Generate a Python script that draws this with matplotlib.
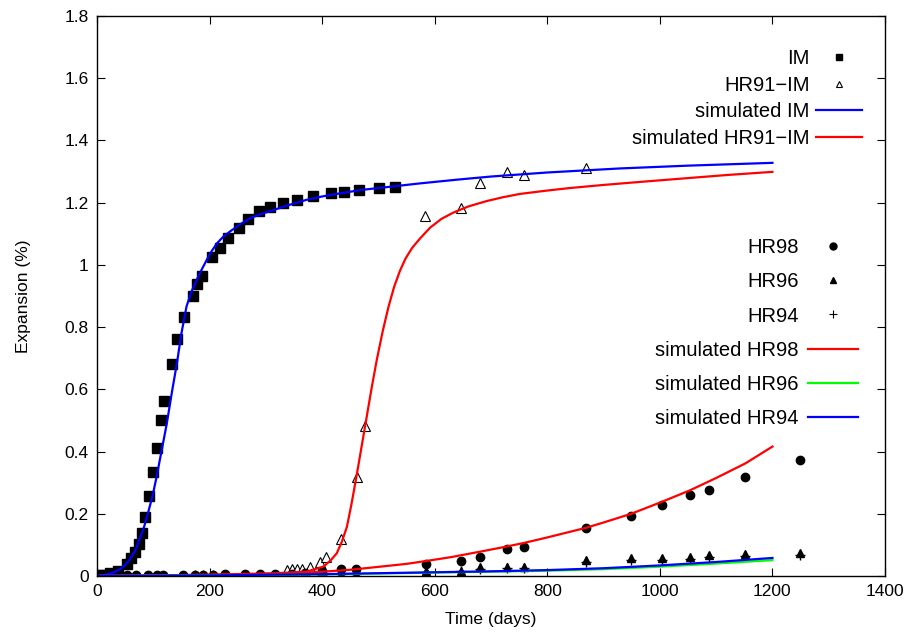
import matplotlib
matplotlib.use("Agg")
import matplotlib.pyplot as plt
from matplotlib.lines import Line2D
from matplotlib.legend_handler import HandlerLine2D

plt.rcParams['font.family'] = ['Liberation Sans', 'DejaVu Sans']

# ---- measured data ----
im_days = [4, 11, 23, 38, 53, 60, 68, 74, 80, 86, 93, 100, 106, 113, 119, 133, 143, 155,
           170, 178, 186, 205, 218, 232, 253, 268, 288, 308, 330, 355, 383, 415, 438, 465, 501, 529]
im_vals = [0.002, 0.004, 0.009, 0.017, 0.039, 0.059, 0.078, 0.102, 0.139, 0.19, 0.257, 0.335,
           0.412, 0.50, 0.563, 0.68, 0.761, 0.833, 0.90, 0.94, 0.965, 1.024, 1.055, 1.085,
           1.117, 1.149, 1.172, 1.185, 1.198, 1.21, 1.22, 1.23, 1.234, 1.24, 1.246, 1.251]

hr91_days = [337, 346, 355, 364, 378, 396, 407, 433, 462, 477, 583, 646, 680, 728, 758, 868]
hr91_vals = [0.019, 0.021, 0.021, 0.021, 0.03, 0.046, 0.06, 0.119, 0.319, 0.482,
             1.157, 1.182, 1.262, 1.299, 1.29, 1.312]

hr98_days = [14, 53, 70, 91, 106, 118, 153, 174, 189, 206, 227, 263, 290, 316, 346, 370, 399,
             434, 461, 584, 647, 681, 728, 758, 869, 949, 1003, 1053, 1087, 1152, 1249]
hr98_vals = [0.002, 0.002, 0.002, 0.002, 0.003, 0.003, 0.003, 0.004, 0.004, 0.004, 0.005,
             0.005, 0.006, 0.007, 0.008, 0.01, 0.017, 0.021, 0.022, 0.04, 0.049, 0.062,
             0.086, 0.094, 0.153, 0.194, 0.228, 0.26, 0.277, 0.317, 0.374]

hr96_days = [14, 53, 70, 91, 106, 118, 153, 174, 189, 206, 227, 263, 290, 316, 346, 370, 399,
             434, 461, 584, 647, 681, 728, 758, 869, 949, 1003, 1053, 1087, 1152, 1249]
hr96_vals = [0.001, 0.001, 0.001, 0.001, 0.001, 0.001, 0.002, 0.002, 0.002, 0.002, 0.002,
             0.003, 0.003, 0.003, 0.004, 0.004, 0.005, 0.006, 0.007, 0.017, 0.017, 0.03,
             0.03, 0.03, 0.051, 0.057, 0.057, 0.062, 0.067, 0.071, 0.075]

hr94_days = [14, 53, 70, 91, 106, 118, 153, 174, 189, 206, 227, 263, 290, 316, 346, 370, 399,
             434, 461, 584, 647, 681, 728, 758, 869, 949, 1003, 1053, 1087, 1152, 1249]
hr94_vals = [0.001, 0.001, 0.001, 0.001, 0.001, 0.001, 0.001, 0.002, 0.002, 0.002, 0.002,
             0.002, 0.003, 0.003, 0.003, 0.004, 0.004, 0.005, 0.006, 0.012, 0.015, 0.024,
             0.026, 0.027, 0.045, 0.05, 0.052, 0.056, 0.06, 0.064, 0.068]

# ---- simulated curves ----
sim_im_days = [0, 15, 30, 41, 50, 59, 68, 76, 84, 91, 99, 106, 115, 124, 133, 142, 150, 159,
               168, 177, 186, 195, 204, 213, 224, 236, 254, 272, 292, 313, 340, 372, 400, 432,
               470, 520, 574, 640, 700, 800, 929, 1050, 1200]
sim_im_vals = [0.0, 0.004, 0.012, 0.022, 0.035, 0.055, 0.082, 0.12, 0.16, 0.205, 0.26, 0.32,
               0.405, 0.49, 0.59, 0.684, 0.78, 0.866, 0.915, 0.951, 0.985, 1.016, 1.045, 1.069,
               1.09, 1.107, 1.13, 1.15, 1.164, 1.176, 1.192, 1.209, 1.22, 1.23, 1.241, 1.251,
               1.262, 1.274, 1.284, 1.297, 1.31, 1.319, 1.328]

sim_hr91_days = [0, 100, 200, 319, 372, 402, 415, 426, 435, 444, 452, 461, 470, 479, 488, 497,
                 508, 518, 528, 538, 548, 560, 574, 592, 612, 633, 660, 692, 720, 751, 800,
                 840, 900, 960, 1050, 1120, 1200]
sim_hr91_vals = [0.0, 0.002, 0.004, 0.009, 0.014, 0.03, 0.05, 0.073, 0.11, 0.158, 0.23, 0.32,
                 0.415, 0.51, 0.605, 0.694, 0.79, 0.866, 0.93, 0.98, 1.02, 1.055, 1.085, 1.12,
                 1.148, 1.168, 1.188, 1.205, 1.217, 1.228, 1.239, 1.247, 1.257, 1.266, 1.279,
                 1.289, 1.299]

sim_hr98_days = [0, 106, 200, 284, 350, 402, 450, 503, 550, 584, 630, 680, 720, 758, 800, 869,
                 900, 949, 1003, 1053, 1100, 1152, 1200]
sim_hr98_vals = [0.0, 0.002, 0.004, 0.006, 0.009, 0.014, 0.02, 0.03, 0.039, 0.048, 0.061,
                 0.078, 0.092, 0.106, 0.124, 0.155, 0.172, 0.2, 0.238, 0.275, 0.315, 0.362,
                 0.416]

sim_hr96_days = [0, 100, 200, 300, 400, 500, 600, 700, 800, 900, 1000, 1100, 1200]
sim_hr96_vals = [0.0, 0.001, 0.002, 0.003, 0.005, 0.008, 0.011, 0.014, 0.017, 0.022, 0.03,
                 0.04, 0.051]

sim_hr94_days = [0, 100, 200, 300, 400, 500, 600, 700, 800, 900, 1000, 1100, 1200]
sim_hr94_vals = [0.0, 0.001, 0.002, 0.004, 0.006, 0.009, 0.012, 0.015, 0.019, 0.025, 0.034,
                 0.045, 0.058]

x_ticks = [0, 200, 400, 600, 800, 1000, 1200, 1400]
y_ticks = [0, 0.2, 0.4, 0.6, 0.8, 1.0, 1.2, 1.4, 1.6, 1.8]
y_tick_labels = ["0", "0.2", "0.4", "0.6", "0.8", "1", "1.2", "1.4", "1.6", "1.8"]

BLUE = '#0000ff'
RED = '#ff0000'
GREEN = '#00ff00'


class ShiftedMarkerHandler(HandlerLine2D):
    """Key marker drawn a little left of the centre of the key sample."""

    def __init__(self, shift_pt, **kw):
        super().__init__(**kw)
        self.shift_pt = shift_pt

    def get_xdata(self, legend, xdescent, ydescent, width, height, fontsize):
        xdata, xm = super().get_xdata(legend, xdescent, ydescent, width, height, fontsize)
        return xdata, [x - self.shift_pt for x in xm]


fig = plt.figure(figsize=(9.16, 6.34), dpi=100)
ax = fig.add_axes([97 / 916, 58 / 634, 788 / 916, 560 / 634])

# data points
ax.plot(im_days, im_vals, ls='none', marker='s', ms=6.5, color='black')
ax.plot(hr91_days, hr91_vals, ls='none', marker='^', ms=7, mfc='white', mec='black', mew=0.8)
ax.plot(hr98_days, hr98_vals, ls='none', marker='o', ms=6, color='black')
ax.plot(hr96_days, hr96_vals, ls='none', marker='^', ms=6, color='black')
ax.plot(hr94_days, hr94_vals, ls='none', marker='+', ms=7, mew=1.0, color='black')

# simulated curves
l_im, = ax.plot(sim_im_days, sim_im_vals, color=BLUE, lw=1.6)
l_hr91, = ax.plot(sim_hr91_days, sim_hr91_vals, color=RED, lw=1.6)
l_hr98, = ax.plot(sim_hr98_days, sim_hr98_vals, color=RED, lw=1.6)
l_hr96, = ax.plot(sim_hr96_days, sim_hr96_vals, color=GREEN, lw=1.6)
l_hr94, = ax.plot(sim_hr94_days, sim_hr94_vals, color=BLUE, lw=1.6)

ax.set_xlim(0, 1400)
ax.set_ylim(0, 1.8)
ax.set_xticks(x_ticks)
ax.set_yticks(y_ticks)
ax.set_yticklabels(y_tick_labels)
ax.tick_params(direction='in', length=6, width=0.8, top=True, right=True,
               labelsize=12.5, pad=6)
for s in ax.spines.values():
    s.set_linewidth(1.0)
ax.set_xlabel('Time (days)', fontsize=12.5, labelpad=9)
ax.set_ylabel('Expansion (%)', fontsize=12.5, labelpad=24)

# legend handles (smaller markers as in reference key)
h_im = Line2D([], [], ls='none', marker='s', ms=5, color='black')
h_hr91 = Line2D([], [], ls='none', marker='^', ms=5, mfc='white', mec='black', mew=0.8)
h_hr98 = Line2D([], [], ls='none', marker='o', ms=5, color='black')
h_hr96 = Line2D([], [], ls='none', marker='^', ms=5, color='black')
h_hr94 = Line2D([], [], ls='none', marker='+', ms=6, mew=0.8, color='black')

hm1 = ShiftedMarkerHandler(5.0, numpoints=1)
hm2 = ShiftedMarkerHandler(3.6, numpoints=1)

leg1 = ax.legend([h_im, h_hr91, l_im, l_hr91],
                 ['IM', 'HR91\u2212IM', 'simulated IM', 'simulated HR91\u2212IM'],
                 loc='upper right', bbox_to_anchor=(0.971, 0.941), frameon=False,
                 markerfirst=False, fontsize=14.5, handlelength=2.3, handletextpad=0.3,
                 labelspacing=0.38, borderpad=0, borderaxespad=0, numpoints=1,
                 handler_map={h_im: hm1, h_hr91: hm1})
ax.add_artist(leg1)
ax.legend([h_hr98, h_hr96, h_hr94, l_hr98, l_hr96, l_hr94],
          ['HR98', 'HR96', 'HR94', 'simulated HR98', 'simulated HR96', 'simulated HR94'],
          loc='upper right', bbox_to_anchor=(0.966, 0.603), frameon=False,
          markerfirst=False, fontsize=14.5, handlelength=2.5, handletextpad=0.45,
          labelspacing=0.75, borderpad=0, borderaxespad=0, numpoints=1,
          handler_map={h_hr98: hm2, h_hr96: hm2, h_hr94: hm2})

fig.savefig('out.png', dpi=100)
